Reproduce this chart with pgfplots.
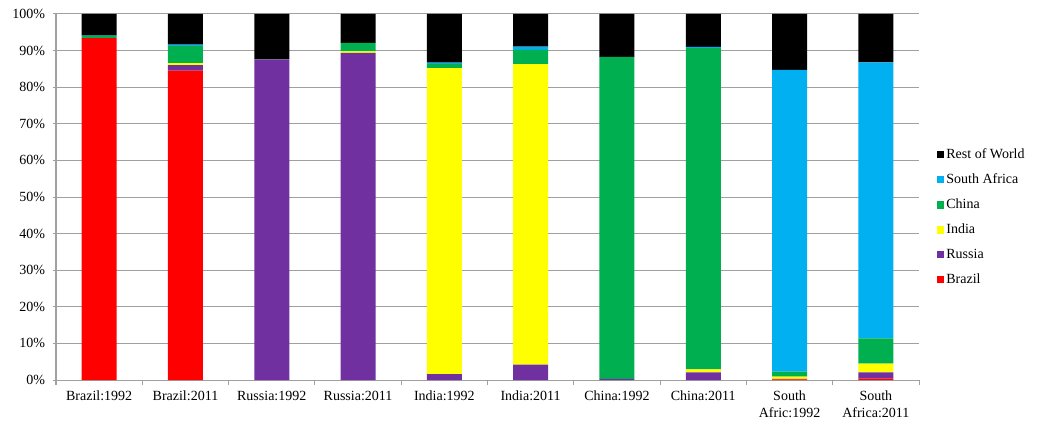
\documentclass[border=0pt]{standalone}
\usepackage{pgfplots}
\usepackage{pgfplotstable}
\pgfplotsset{compat=1.18}
\usepackage{fontspec}
\setmainfont{Liberation Serif}

\definecolor{cBrazil}{RGB}{255,0,0}
\definecolor{cRussia}{RGB}{112,48,160}
\definecolor{cIndia}{RGB}{255,255,0}
\definecolor{cChina}{RGB}{0,176,80}
\definecolor{cSA}{RGB}{0,176,240}
\definecolor{cRest}{RGB}{0,0,0}
\definecolor{gridgray}{RGB}{160,160,160}

% share of each economy's trade (percent), by partner
\pgfplotstableread{
idx Brazil Russia India China SA   Rest
0   93.4   0.0    0.0   0.6   0.1  5.9
1   84.5   1.5    0.6   4.6   0.4  8.4
2   0.0    87.6   0.0   0.1   0.0  12.3
3   0.0    89.4   0.4   2.3   0.0  7.9
4   0.0    1.6    83.6  1.2   0.3  13.3
5   0.0    4.2    82.1  3.9   0.9  8.9
6   0.0    0.3    0.0   87.9  0.1  11.7
7   0.0    2.1    0.8   87.8  0.3  9.0
8   0.2    0.1    0.6   1.4   82.4 15.3
9   0.4    1.7    2.4   6.9   75.4 13.2
}\shares

\begin{document}
\fontsize{10.5pt}{12.6pt}\selectfont
\begin{tikzpicture}
\useasboundingbox (-42pt,-33.75pt) rectangle (736.5pt,285pt);
\begin{axis}[
  at={(0,0)}, anchor=south west,
  scale only axis,
  width=647.25pt, height=274.5pt,
  ybar stacked, bar width=26.25pt,
  xmin=-0.5, xmax=9.5,
  ymin=0, ymax=100,
  axis lines*=left,
  axis line style={-, draw=gridgray, line width=0.75pt},
  xtick={0,...,9},
  xticklabels={Brazil:1992,Brazil:2011,Russia:1992,Russia:2011,India:1992,India:2011,China:1992,China:2011,{South\\Afric:1992},{South\\Africa:2011}},
  xticklabel style={align=center, yshift=-2pt},
  major x tick style={draw=none},
  minor xtick={-0.5,0.5,...,9.5},
  minor x tick style={draw=gridgray, line width=0.75pt},
  minor tick length=4pt,
  tick align=outside,
  ytick={0,10,...,100},
  yticklabel={\pgfmathprintnumber{\tick}\%},
  yticklabel style={xshift=-2pt},
  /pgf/number format/assume math mode=true,
  major y tick style={draw=gridgray, line width=0.75pt},
  major tick length=2.5pt,
  ymajorgrids,
  grid style={draw=gridgray, line width=0.75pt},
  every axis plot/.append style={draw=none},
  reverse legend,
  legend cell align=left,
  legend style={draw=none, fill=none, at={(1.02,0.64)}, anchor=north west,
    row sep=5.9pt, inner sep=0pt, font=\fontsize{10.5pt}{12.6pt}\selectfont},
  legend image code/.code={\fill[#1] (0pt,-2.7pt) rectangle (5.4pt,2.7pt);},
]
\addplot[fill=cBrazil] table[x=idx,y=Brazil] {\shares};
\addlegendentry{Brazil}
\addplot[fill=cRussia] table[x=idx,y=Russia] {\shares};
\addlegendentry{Russia}
\addplot[fill=cIndia] table[x=idx,y=India] {\shares};
\addlegendentry{India}
\addplot[fill=cChina] table[x=idx,y=China] {\shares};
\addlegendentry{China}
\addplot[fill=cSA] table[x=idx,y=SA] {\shares};
\addlegendentry{South Africa}
\addplot[fill=cRest] table[x=idx,y=Rest] {\shares};
\addlegendentry{Rest of World}
\end{axis}
\end{tikzpicture}
\end{document}
